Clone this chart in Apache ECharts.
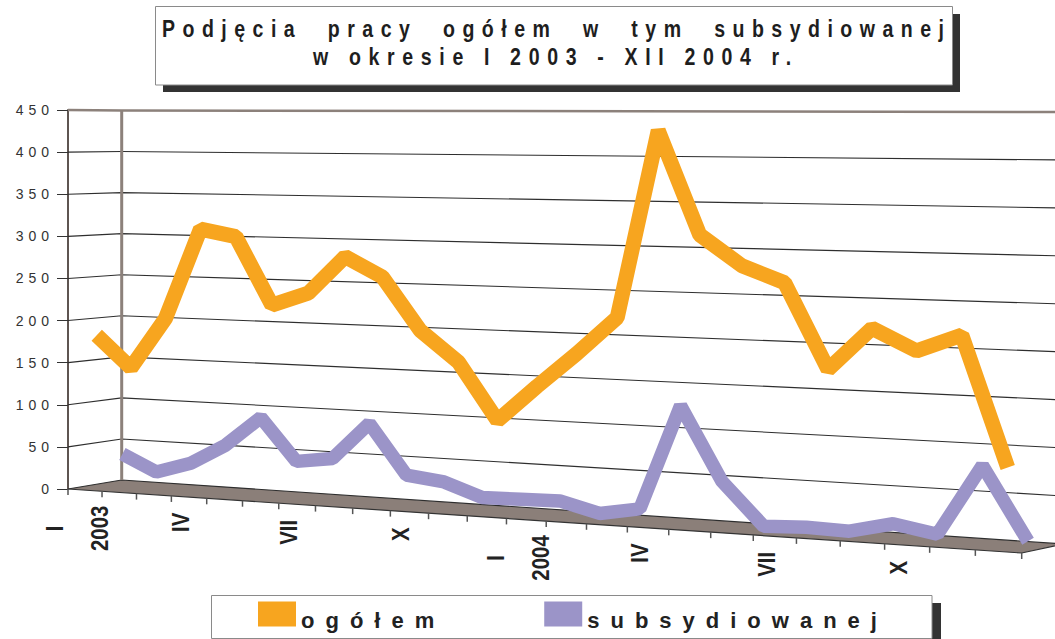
<!DOCTYPE html>
<html lang="pl">
<head>
<meta charset="utf-8">
<title>Podjęcia pracy ogółem w tym subsydiowanej</title>
<script src="https://cdn.jsdelivr.net/npm/echarts@6.0.0/dist/echarts.min.js"></script>
<style>
html,body{margin:0;padding:0;background:#ffffff;}
#main{width:1055px;height:639px;}
</style>
</head>
<body>
<div id="main"></div>
<script>
// ---------------- data ----------------
const months = ['I','II','III','IV','V','VI','VII','VIII','IX','X','XI','XII',
                'I','II','III','IV','V','VI','VII','VIII','IX','X','XI','XII'];
const years = ['2003','','','','','','','','','','','',
               '2004','','','','','','','','','','',''];
const ogolem = [182,145,205,311,303,225,240,283,261,202,168,105,
                145,183,224,428,316,284,267,177,222,200,218,84];
const subsydiowanej = [36,17,30,54,89,40,46,89,32,27,12,13,
                       14,3,11,127,47,1,3,2,13,5,80,4];
const yTicks = [0,50,100,150,200,250,300,350,400,450];
const titleLines = ['Podjęcia pracy ogółem w tym subsydiowanej', 'w okresie I 2003 - XII 2004 r.'];
const seriesNames = ['ogółem', 'subsydiowanej'];

// ---------------- style / layout ----------------
const FONT = 'Liberation Sans, Arial, Helvetica, sans-serif';
const COLORS = ['#F7A51F', '#9B94C8'];
const DEPTH = [0.22, 0.70];          // depth of each ribbon (0 = front, 1 = back wall)
const WIDTHS = [15, 13.5];
const LABEL_EVERY = 3;
const K = 0.851;                      // perspective foreshortening along the category axis
const FRONT = {x0: 68, w: 953.7, yb0: 489, ybS: 64, yt0: 110, ytS: 0};
const BACK  = {x0: 121.7, w: 942, yb0: 480, ybS: 64, yt0: 110.5, ytS: 1.5};
const TITLE_SX = 0.85;

function persp(s) { return K * s / (1 - (1 - K) * s); }
function project(s, w, d) {
  const P = persp(s);
  const xf = FRONT.x0 + FRONT.w * P, xb = BACK.x0 + BACK.w * P;
  const ybf = FRONT.yb0 + FRONT.ybS * P, ybb = BACK.yb0 + BACK.ybS * P;
  const ytf = FRONT.yt0 + FRONT.ytS * P, ytb = BACK.yt0 + BACK.ytS * P;
  const x = xf + (xb - xf) * d;
  const yb = ybf + (ybb - ybf) * d, yt = ytf + (ytb - ytf) * d;
  return [x, yb - w * (yb - yt)];
}
const mctx = document.createElement('canvas').getContext('2d');
function textLen(t, size) { mctx.font = 'bold ' + size + 'px ' + FONT; return mctx.measureText(t).width; }

function geom(params, api) {
  const cs = params.coordSys;
  return {
    s: i => (api.coord([i, 0])[0] - cs.x) / cs.width,
    w: v => (cs.y + cs.height - api.coord([0, v])[1]) / cs.height,
    band: api.size([1, 0])[0] / cs.width
  };
}

const categories = months.map((m, i) => years[i] ? m + '\n' + years[i] : m);

function renderDecor(params, api) {
  if (params.dataIndex !== 0) return null;
  const g = geom(params, api);
  const ch = [];
  // floor
  ch.push({type: 'polygon', shape: {points: [project(0,0,0), project(1,0,0), project(1,0,1), project(0,0,1)]},
           style: {fill: '#8B7F79', stroke: null}});
  // grid lines on side wall and back wall
  yTicks.forEach((v, k) => {
    if (k === yTicks.length - 1) return;
    const w = g.w(v);
    ch.push({type: 'polyline', shape: {points: [project(0,w,0), project(0,w,1), project(1,w,1)]},
             style: {stroke: '#2e2e2e', lineWidth: 1.1, fill: null}});
  });
  // top edge and back-left edge
  const wt = g.w(yTicks[yTicks.length - 1]);
  ch.push({type: 'polyline', shape: {points: [project(0,wt,0), project(0,wt,1), project(1,wt,1)]},
           style: {stroke: '#8C817B', lineWidth: 2.5, fill: null}});
  ch.push({type: 'line', shape: {x1: project(0,0,1)[0], y1: project(0,0,1)[1], x2: project(0,wt,1)[0], y2: project(0,wt,1)[1]},
           style: {stroke: '#8C817B', lineWidth: 3}});
  // front edge of floor
  ch.push({type: 'polyline', shape: {points: [project(0,0,0), project(1,0,0), project(1,0,1)]},
           style: {stroke: '#333', lineWidth: 1.2, fill: null}});
  // category ticks on front edge
  for (let i = 0; i <= months.length; i++) {
    const sb = g.s(i) - g.band / 2;
    const p = project(sb, 0, 0);
    ch.push({type: 'line', shape: {x1: p[0], y1: p[1], x2: p[0], y2: p[1] + 6}, style: {stroke: '#555', lineWidth: 1.5}});
  }
  // category labels (rotated)
  const FS = 24, SX = 0.85;
  for (let i = 0; i < months.length; i += LABEL_EVERY) {
    const lines = [months[i]].concat(years[i] ? [years[i]] : []);
    const p = project(g.s(i), 0, 0);
    const cx = p[0] - 8;
    const edgeY = p[1] - 0.5;
    const len = Math.max.apply(null, lines.map(t => textLen(t, FS))) * SX;
    const cy = edgeY + 16 + len / 2;
    lines.forEach((t, k) => {
      const off = (k - (lines.length - 1) / 2) * 45;
      ch.push({type: 'text', x: cx + off, y: cy, rotation: Math.PI / 2, scaleX: SX,
               style: {text: t, fontSize: FS, fontWeight: 'bold', fontFamily: FONT, fill: '#222',
                       align: 'center', verticalAlign: 'middle', textAlign: 'center', textVerticalAlign: 'middle'}});
    });
  }
  return {type: 'group', children: ch, silent: true};
}

function lineRenderer(values, depth, color, width) {
  return function (params, api) {
    if (params.dataIndex !== 0) return null;
    const g = geom(params, api);
    const pts = values.map((v, i) => project(g.s(i), g.w(v), depth));
    return {type: 'polyline', shape: {points: pts}, silent: true,
            style: {stroke: color, lineWidth: width, fill: null, lineJoin: 'bevel', lineCap: 'butt'}};
  };
}

const chart = echarts.init(document.getElementById('main'), null, {renderer: 'svg'});
const option = {
  animation: false,
  backgroundColor: '#ffffff',
  grid: {left: 68, top: 110, right: 1055 - 68 - 953.7, bottom: 150, containLabel: false, outerBoundsMode: 'none'},
  xAxis: {type: 'category', data: categories, show: false, boundaryGap: true},
  yAxis: {type: 'value', min: 0, max: 450, interval: 50,
          axisLine: {show: true, lineStyle: {color: '#5E5551', width: 2}},
          axisTick: {show: true, inside: false, length: 11, lineStyle: {color: '#333', width: 1}},
          axisLabel: {margin: 14, color: '#333', fontSize: 14, fontFamily: FONT},
          splitLine: {show: false}},
  legend: {data: seriesNames, left: 258, top: 601.5, padding: 0, itemGap: 165, itemWidth: 38, itemHeight: 25,
           icon: 'rect', selectedMode: false, z: 10,
           textStyle: {fontSize: 22, fontWeight: 'bold', color: '#222', fontFamily: FONT}},
  graphic: [
    {type: 'rect', z: 0, silent: true, shape: {x: 163, y: 14, width: 797, height: 78}, style: {fill: '#333'}},
    {type: 'rect', z: 1, silent: true, shape: {x: 155.5, y: 6.5, width: 797, height: 78.5}, style: {fill: '#fff', stroke: '#8a8a8a', lineWidth: 1}},
    {type: 'text', z: 2, silent: true, x: 162, y: 29, scaleX: TITLE_SX,
     style: {text: titleLines[0], fontSize: 23, fontWeight: 'bold', fontFamily: FONT, fill: '#1e1e1e',
             align: 'left', verticalAlign: 'middle', textAlign: 'left', textVerticalAlign: 'middle'}},
    {type: 'text', z: 2, silent: true, x: 313, y: 57, scaleX: TITLE_SX,
     style: {text: titleLines[1], fontSize: 23, fontWeight: 'bold', fontFamily: FONT, fill: '#1e1e1e',
             align: 'left', verticalAlign: 'middle', textAlign: 'left', textVerticalAlign: 'middle'}},
    {type: 'rect', z: 0, silent: true, shape: {x: 220, y: 603, width: 721, height: 45}, style: {fill: '#333'}},
    {type: 'rect', z: 1, silent: true, shape: {x: 211.5, y: 595.5, width: 720.5, height: 43}, style: {fill: '#fff', stroke: '#8a8a8a', lineWidth: 1}}
  ],
  series: [
    {type: 'custom', name: '_decor', coordinateSystem: 'cartesian2d', clip: false, z: 1, silent: true,
     renderItem: renderDecor, data: [[0, 0]], encode: {x: 0, y: 1}},
    {type: 'custom', name: seriesNames[1], coordinateSystem: 'cartesian2d', clip: false, z: 3, silent: true,
     color: COLORS[1], itemStyle: {color: COLORS[1]},
     renderItem: lineRenderer(subsydiowanej, DEPTH[1], COLORS[1], WIDTHS[1]),
     data: subsydiowanej.map((v, i) => [i, v]), encode: {x: 0, y: 1}},
    {type: 'custom', name: seriesNames[0], coordinateSystem: 'cartesian2d', clip: false, z: 4, silent: true,
     color: COLORS[0], itemStyle: {color: COLORS[0]},
     renderItem: lineRenderer(ogolem, DEPTH[0], COLORS[0], WIDTHS[0]),
     data: ogolem.map((v, i) => [i, v]), encode: {x: 0, y: 1}}
  ]
};
chart.setOption(option);

function fixText() {
  const tickStr = yTicks.map(String);
  document.querySelectorAll('#main svg text').forEach(t => {
    const s = t.textContent;
    if (s === titleLines[0]) { t.style.letterSpacing = '8.8px'; t.style.wordSpacing = '15px'; }
    else if (s === titleLines[1]) { t.style.letterSpacing = '9px'; }
    else if (seriesNames.indexOf(s) >= 0) { t.style.letterSpacing = '11px'; t.setAttribute('dy', '6'); }
    else if (tickStr.indexOf(s) >= 0) { t.style.letterSpacing = '5px'; }
  });
}
fixText();
chart.on('finished', fixText);
setTimeout(fixText, 50);
setTimeout(fixText, 300);
</script>
</body>
</html>
